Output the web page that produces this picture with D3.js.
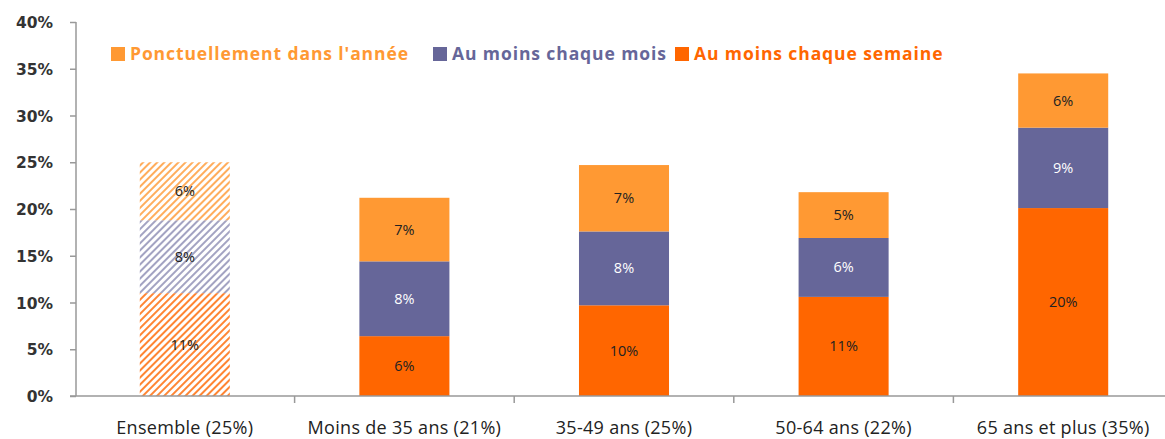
<!DOCTYPE html>
<html>
<head>
<meta charset="utf-8">
<script src="https://cdn.jsdelivr.net/npm/d3@7"></script>
<style>
  body { margin: 0; background: #fff; }
  svg { display: block; }
</style>
</head>
<body>
<div id="chart"></div>
<script>
// data
const categories = ["Ensemble (25%)", "Moins de 35 ans (21%)", "35-49 ans (25%)", "50-64 ans (22%)", "65 ans et plus (35%)"];
const series = ["Au moins chaque semaine", "Au moins chaque mois", "Ponctuellement dans l'année"];
const semaine = [11.0, 6.4, 9.7, 10.6, 20.1];
const mois = [7.8, 8.0, 7.9, 6.3, 8.6];
const ponctuel = [6.2, 6.8, 7.1, 4.9, 5.8];
const labelsSemaine = ["11%", "6%", "10%", "11%", "20%"];
const labelsMois = ["8%", "8%", "8%", "6%", "9%"];
const labelsPonctuel = ["6%", "7%", "7%", "5%", "6%"];
const yTicks = [0, 5, 10, 15, 20, 25, 30, 35, 40];
const legendOrder = ["Ponctuellement dans l'année", "Au moins chaque mois", "Au moins chaque semaine"];

const width = 1165, height = 439;
const colors = {
  "Au moins chaque semaine": "#ff6600",
  "Au moins chaque mois": "#666699",
  "Ponctuellement dans l'année": "#ff9933"
};
const textFont = "'Open Sans', sans-serif";

let svg = d3.select("#chart").append("svg")
  .attr("width", width)
  .attr("height", height);

let xScale = d3.scaleBand()
  .domain(categories)
  .range([75, 1173])
  .paddingInner(0.59)
  .paddingOuter(0.295);

let yScale = d3.scaleLinear()
  .domain([0, 40])
  .range([396, 22]);

// hatch patterns for the first bar
let defs = svg.append("defs");
series.forEach((s, i) => {
  let p = defs.append("pattern")
    .attr("id", "hatch" + i)
    .attr("patternUnits", "userSpaceOnUse")
    .attr("width", 5)
    .attr("height", 5)
    .attr("patternTransform", "rotate(45)");
  p.append("rect").attr("width", 5).attr("height", 5).attr("fill", "#fff");
  p.append("rect").attr("width", 2).attr("height", 5).attr("fill", colors[s]).attr("opacity", s === "Au moins chaque mois" ? 0.6 : 0.8);
});

// stacked data
let rows = categories.map((c, i) => ({
  cat: c,
  "Au moins chaque semaine": semaine[i],
  "Au moins chaque mois": mois[i],
  "Ponctuellement dans l'année": ponctuel[i]
}));
let labelSets = [labelsSemaine, labelsMois, labelsPonctuel];
let stacked = d3.stack().keys(series)(rows);

stacked.forEach((layer, si) => {
  let g = svg.append("g");
  g.selectAll("rect")
    .data(layer)
    .join("rect")
    .attr("x", d => xScale(d.data.cat))
    .attr("y", d => yScale(d[1]))
    .attr("width", xScale.bandwidth())
    .attr("height", d => yScale(d[0]) - yScale(d[1]))
    .attr("fill", (d, i) => i === 0 ? `url(#hatch${si})` : colors[layer.key]);

  g.selectAll("text")
    .data(layer)
    .join("text")
    .attr("x", d => xScale(d.data.cat) + xScale.bandwidth() / 2)
    .attr("y", d => yScale((d[0] + d[1]) / 2) + 5)
    .attr("text-anchor", "middle")
    .attr("font-family", textFont)
    .attr("font-size", "14.5px")
    .attr("fill", (d, i) => (layer.key === "Au moins chaque mois" && i > 0) ? "#fff" : "#222")
    .text((d, i) => labelSets[si][i]);
});

// axes
let yAxis = d3.axisLeft(yScale)
  .tickValues(yTicks)
  .tickSize(6)
  .tickFormat(d => d + "%");

let yG = svg.append("g")
  .attr("transform", "translate(76,0)")
  .call(yAxis);
yG.select(".domain").attr("stroke", "#999").attr("stroke-width", 1.5).attr("d", "M0,22V396");
yG.selectAll(".tick line").attr("stroke", "#999").attr("stroke-width", 1.5);
yG.selectAll(".tick text")
  .attr("x", -23)
  .attr("dy", "0.36em")
  .attr("font-family", "'DejaVu Sans', Verdana, sans-serif")
  .attr("font-size", "15.5px")
  .attr("font-weight", "bold")
  .attr("fill", "#333");

// x axis line and category separators
svg.append("line")
  .attr("x1", 70).attr("x2", width)
  .attr("y1", 396).attr("y2", 396)
  .attr("stroke", "#999").attr("stroke-width", 1.5);

let step = xScale.step();
let sepG = svg.append("g");
sepG.selectAll("line")
  .data(categories.slice(1))
  .join("line")
  .attr("x1", d => xScale(d) - (step - xScale.bandwidth()) / 2)
  .attr("x2", d => xScale(d) - (step - xScale.bandwidth()) / 2)
  .attr("y1", 396).attr("y2", 403)
  .attr("stroke", "#999").attr("stroke-width", 1.5);

svg.append("g").selectAll("text")
  .data(categories)
  .join("text")
  .attr("x", d => xScale(d) + xScale.bandwidth() / 2)
  .attr("y", 434)
  .attr("text-anchor", "middle")
  .attr("font-family", textFont)
  .attr("font-size", "18px")
  .attr("letter-spacing", "0.3px")
  .attr("fill", "#222")
  .text(d => d);

// legend
let legendX = [111, 433, 675];
let legend = svg.append("g");
legendOrder.forEach((s, i) => {
  legend.append("rect")
    .attr("x", legendX[i]).attr("y", 47)
    .attr("width", 14).attr("height", 14)
    .attr("fill", colors[s]);
  legend.append("text")
    .attr("x", legendX[i] + 19)
    .attr("y", 60)
    .attr("font-family", textFont)
    .attr("font-size", "17.5px")
    .attr("font-weight", "bold")
    .attr("letter-spacing", "0.9px")
    .attr("fill", colors[s])
    .text(s);
});
</script>
</body>
</html>
